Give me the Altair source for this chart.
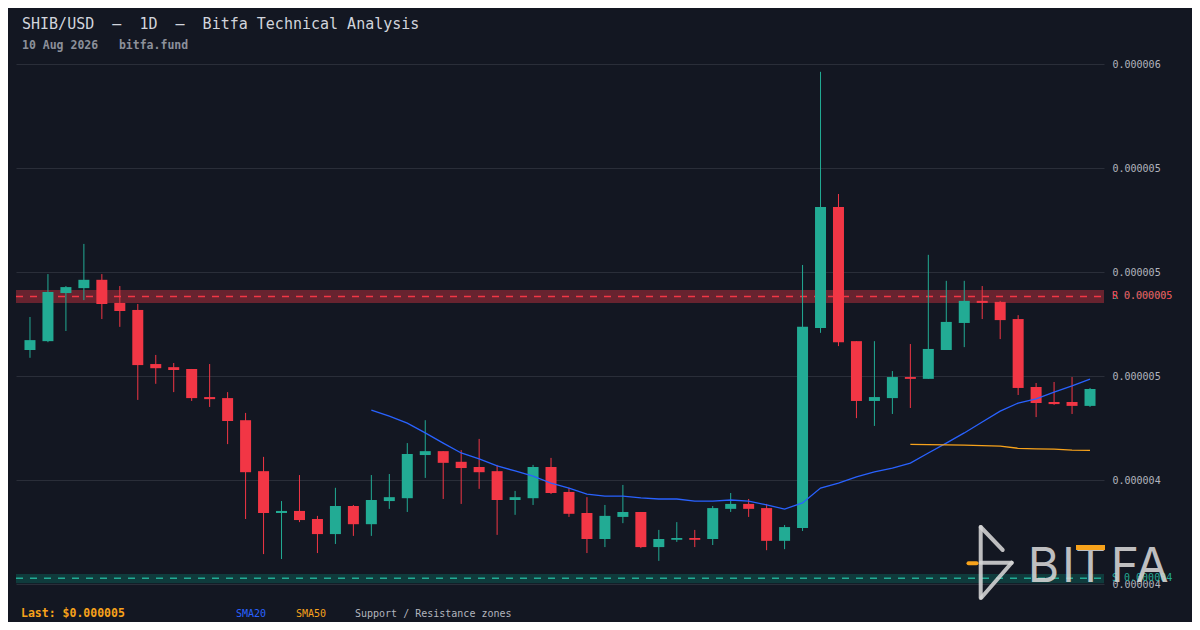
import altair as alt
import pandas as pd

# ---------------- data (prices in units of 1e-6 USD) ----------------
UNIT = 1e-6

opens = [4.700, 4.734, 4.919, 4.938, 4.970, 4.881, 4.854, 4.646, 4.634, 4.627,
         4.519, 4.515, 4.430, 4.234, 4.073, 4.081, 4.050, 3.992, 4.100, 4.030,
         4.119, 4.130, 4.296, 4.311, 4.270, 4.250, 4.234, 4.123, 4.130, 4.250,
         4.154, 4.073, 3.973, 4.058, 4.077, 3.942, 3.970, 3.977, 3.973, 4.089,
         4.108, 4.092, 3.966, 4.015, 4.785, 5.250, 4.734, 4.504, 4.515, 4.596,
         4.589, 4.700, 4.804, 4.889, 4.885, 4.819, 4.558, 4.500, 4.500, 4.485]

closes = [4.738, 4.923, 4.942, 4.970, 4.877, 4.850, 4.642, 4.630, 4.623, 4.515,
          4.511, 4.427, 4.230, 4.073, 4.081, 4.046, 3.992, 4.100, 4.030, 4.123,
          4.134, 4.300, 4.311, 4.266, 4.246, 4.230, 4.123, 4.134, 4.250, 4.150,
          4.070, 3.973, 4.062, 4.077, 3.942, 3.973, 3.977, 3.970, 4.092, 4.108,
          4.089, 3.966, 4.019, 4.789, 5.250, 4.730, 4.504, 4.519, 4.596, 4.589,
          4.704, 4.808, 4.889, 4.881, 4.815, 4.554, 4.496, 4.492, 4.485, 4.550]

highs = [4.827, 4.992, 4.946, 5.108, 4.992, 4.946, 4.877, 4.681, 4.650, 4.627,
         4.646, 4.538, 4.458, 4.289, 4.119, 4.219, 4.062, 4.170, 4.104, 4.219,
         4.223, 4.342, 4.430, 4.311, 4.315, 4.358, 4.258, 4.158, 4.258, 4.285,
         4.170, 4.134, 4.104, 4.181, 4.077, 4.008, 4.038, 4.008, 4.100, 4.150,
         4.127, 4.108, 4.027, 5.027, 5.770, 5.300, 4.734, 4.734, 4.619, 4.723,
         5.066, 4.966, 4.966, 4.946, 4.889, 4.834, 4.573, 4.577, 4.596, 4.554]

lows = [4.670, 4.730, 4.773, 4.892, 4.819, 4.789, 4.508, 4.570, 4.538, 4.504,
        4.481, 4.338, 4.050, 3.915, 3.896, 4.038, 3.919, 3.954, 3.985, 3.985,
        4.089, 4.077, 4.208, 4.127, 4.108, 4.166, 3.989, 4.066, 4.104, 4.146,
        4.058, 3.919, 3.942, 4.034, 3.938, 3.889, 3.962, 3.942, 3.950, 4.077,
        4.058, 3.930, 3.934, 4.004, 4.766, 4.715, 4.438, 4.408, 4.454, 4.477,
        4.589, 4.700, 4.711, 4.819, 4.742, 4.527, 4.442, 4.489, 4.454, 4.481]

sma20_start = 19
sma20 = [4.469, 4.446, 4.419, 4.381, 4.342, 4.304, 4.281, 4.254, 4.235, 4.215,
         4.188, 4.169, 4.146, 4.138, 4.138, 4.131, 4.127, 4.127, 4.119, 4.119,
         4.123, 4.119, 4.104, 4.088, 4.112, 4.169, 4.188, 4.212, 4.231, 4.246,
         4.265, 4.304, 4.342, 4.381, 4.423, 4.465, 4.496, 4.512, 4.538, 4.562, 4.588]

sma50_start = 49
sma50 = [4.337, 4.336, 4.335, 4.334, 4.332, 4.330, 4.322, 4.320, 4.319, 4.315, 4.314]

zone_kind = ["support", "resistance"]
zone_top = [3.838, 4.931]
zone_bottom = [3.803, 4.881]
zone_level = [3.822, 4.906]

y_ticks = [3.8, 4.2, 4.6, 5.0, 5.4, 5.8]

NB = "\u00a0"
title_text = f"SHIB/USD{NB}{NB}\u2013{NB}{NB}1D{NB}{NB}\u2013{NB}{NB}Bitfa{NB}Technical{NB}Analysis"
subtitle_text = f"10{NB}Aug{NB}2026{NB}{NB}{NB}bitfa.fund"

# ---------------- styling ----------------
BG = "#131722"
GRID = "#2a2e39"
GREEN = "#089981"
RED = "#f23645"
TEAL = "#22ab94"
BLUE = "#2962ff"
ORANGE = "#f7a21b"
MONO = "DejaVu Sans Mono"
W, H = 1088, 520

n = len(opens)
candles = pd.DataFrame({
    "i": list(range(n)),
    "date": pd.date_range(end="2026-08-10", periods=n, freq="D"),
    "open": [v * UNIT for v in opens],
    "close": [v * UNIT for v in closes],
    "high": [v * UNIT for v in highs],
    "low": [v * UNIT for v in lows],
})
candles["dir"] = ["up" if c >= o else "down" for o, c in zip(opens, closes)]

sma20_df = pd.DataFrame({"i": list(range(sma20_start, sma20_start + len(sma20))),
                         "v": [v * UNIT for v in sma20]})
sma50_df = pd.DataFrame({"i": list(range(sma50_start, sma50_start + len(sma50))),
                         "v": [v * UNIT for v in sma50]})

zones = pd.DataFrame({
    "kind": zone_kind,
    "top": [v * UNIT for v in zone_top],
    "bottom": [v * UNIT for v in zone_bottom],
    "level": [v * UNIT for v in zone_level],
})

# labels: a teal S sits under the red R label, as in the reference
zone_labels = pd.DataFrame({
    "kind": ["support", "resistance", "support"],
    "level": [zone_level[1] * UNIT, zone_level[1] * UNIT, zone_level[0] * UNIT],
})
zone_labels["label"] = [("S" if k == "support" else "R") + NB + f"{lv:.6f}"
                        for k, lv in zip(zone_labels["kind"], zone_labels["level"])]

x_scale = alt.Scale(domain=[-0.5, n - 0.5], nice=False, zero=False)
y_scale = alt.Scale(domain=[y_ticks[0] * UNIT, y_ticks[-1] * UNIT], nice=False, zero=False)
Y_AXIS = alt.Axis(orient="right", values=[t * UNIT for t in y_ticks], format=".6f",
                  grid=True, gridColor=GRID, gridWidth=1, domain=False, ticks=False,
                  labelPadding=8, labelFont=MONO, labelFontSize=10, labelColor="#b2b5be",
                  title=None)
dir_color = alt.Scale(domain=["up", "down"], range=[GREEN, RED])
zone_fill = alt.Scale(domain=["support", "resistance"],
                      range=["rgba(8,153,129,0.28)", "rgba(242,54,69,0.38)"])
zone_line = alt.Scale(domain=["support", "resistance"], range=[TEAL, RED])

X = alt.X("i:Q", scale=x_scale, axis=None)

bands = alt.Chart(zones).mark_rect().encode(
    x=alt.value(0), x2=alt.value(W),
    y=alt.Y("top:Q", scale=y_scale, axis=Y_AXIS), y2="bottom:Q",
    fill=alt.Fill("kind:N", scale=zone_fill, legend=None),
)
zone_rules = alt.Chart(zones).mark_rule(strokeDash=[7, 7], strokeWidth=1.5).encode(
    x=alt.value(0), x2=alt.value(W),
    y=alt.Y("level:Q", scale=y_scale, axis=Y_AXIS),
    color=alt.Color("kind:N", scale=zone_line, legend=None),
)
zone_text = alt.Chart(zone_labels).mark_text(
    align="left", baseline="middle", font=MONO, fontSize=10
).encode(
    x=alt.value(W + 8),
    y=alt.Y("level:Q", scale=y_scale, axis=Y_AXIS),
    text="label:N",
    color=alt.Color("kind:N", scale=zone_line, legend=None),
)

wicks = alt.Chart(candles).mark_rule(strokeWidth=1).encode(
    x=X,
    y=alt.Y("low:Q", scale=y_scale, axis=Y_AXIS), y2="high:Q",
    color=alt.Color("dir:N", scale=dir_color, legend=None),
)
bodies = alt.Chart(candles).mark_bar(size=11).encode(
    x=X,
    y=alt.Y("open:Q", scale=y_scale, axis=Y_AXIS), y2="close:Q",
    color=alt.Color("dir:N", scale=dir_color, legend=None),
)
line20 = alt.Chart(sma20_df).mark_line(color=BLUE, strokeWidth=1.3).encode(
    x=X, y=alt.Y("v:Q", scale=y_scale, axis=Y_AXIS))
line50 = alt.Chart(sma50_df).mark_line(color=ORANGE, strokeWidth=1.3).encode(
    x=X, y=alt.Y("v:Q", scale=y_scale, axis=Y_AXIS))

# ---------------- text & decoration ----------------
one = pd.DataFrame({"k": [0]})


def txt(s, x, y, size, color, weight="normal", font=MONO, align="left", opacity=1.0):
    return alt.Chart(one).mark_text(
        text=s, align=align, baseline="alphabetic", font=font, fontSize=size,
        fontWeight=weight, color=color, opacity=opacity
    ).encode(x=alt.value(x), y=alt.value(y))


def seg(x1, y1, x2, y2, color, width, opacity=1.0):
    return alt.Chart(one).mark_rule(
        color=color, strokeWidth=width, strokeCap="round", opacity=opacity
    ).encode(x=alt.value(x1), y=alt.value(y1), x2=alt.value(x2), y2=alt.value(y2))


last_text = f"Last:{NB}${closes[-1] * UNIT:.6f}"
texts = [
    txt(title_text, 6, -35, 15, "#d1d4dc"),
    txt(subtitle_text, 6, -15, 11.5, "#8c909a", weight="bold"),
    txt(last_text, 5, 553, 11.5, ORANGE, weight="bold"),
    txt("SMA20", 220, 553, 10, BLUE),
    txt("SMA50", 280, 553, 10, ORANGE),
    txt(f"Support{NB}/{NB}Resistance{NB}zones", 339, 553, 10, "#b2b5be"),
]

LOGO = "#d6d6d6"
LOGO_OP = 0.88
logo = [
    seg(964.7, 463, 964.7, 534, LOGO, 4, LOGO_OP),
    seg(964.7, 463, 986.7, 486, LOGO, 4, LOGO_OP),
    seg(964.7, 498.7, 995.7, 498.7, LOGO, 4, LOGO_OP),
    seg(995.7, 498.7, 965.5, 533.5, LOGO, 4, LOGO_OP),
    seg(952.5, 499.3, 960.5, 499.3, ORANGE, 4),
    txt("B", 1027.5, 518, 48, LOGO, font="Inter", align="center", opacity=LOGO_OP),
    txt("I", 1052.5, 518, 48, LOGO, font="Inter", align="center", opacity=LOGO_OP),
    txt("T", 1074.5, 518, 48, LOGO, font="Inter", align="center", opacity=LOGO_OP),
    txt("F", 1109, 518, 48, LOGO, font="Inter", align="center", opacity=LOGO_OP),
    txt("A", 1136, 518, 48, LOGO, font="Inter", align="center", opacity=LOGO_OP),
    alt.Chart(one).mark_rect(color=ORANGE).encode(
        x=alt.value(1060), x2=alt.value(1089), y=alt.value(481), y2=alt.value(486)),
]

chart = alt.layer(
    bands, zone_rules, wicks, bodies, line20, line50, zone_text, *texts, *logo
).properties(
    width=W, height=H, background=BG,
    padding={"left": 8, "top": 56, "right": 88, "bottom": 38},
    autosize=alt.AutoSizeParams(type="none"),
).configure_view(stroke=None)

chart.save("out.html", embed_options={"renderer": "svg", "actions": False})
